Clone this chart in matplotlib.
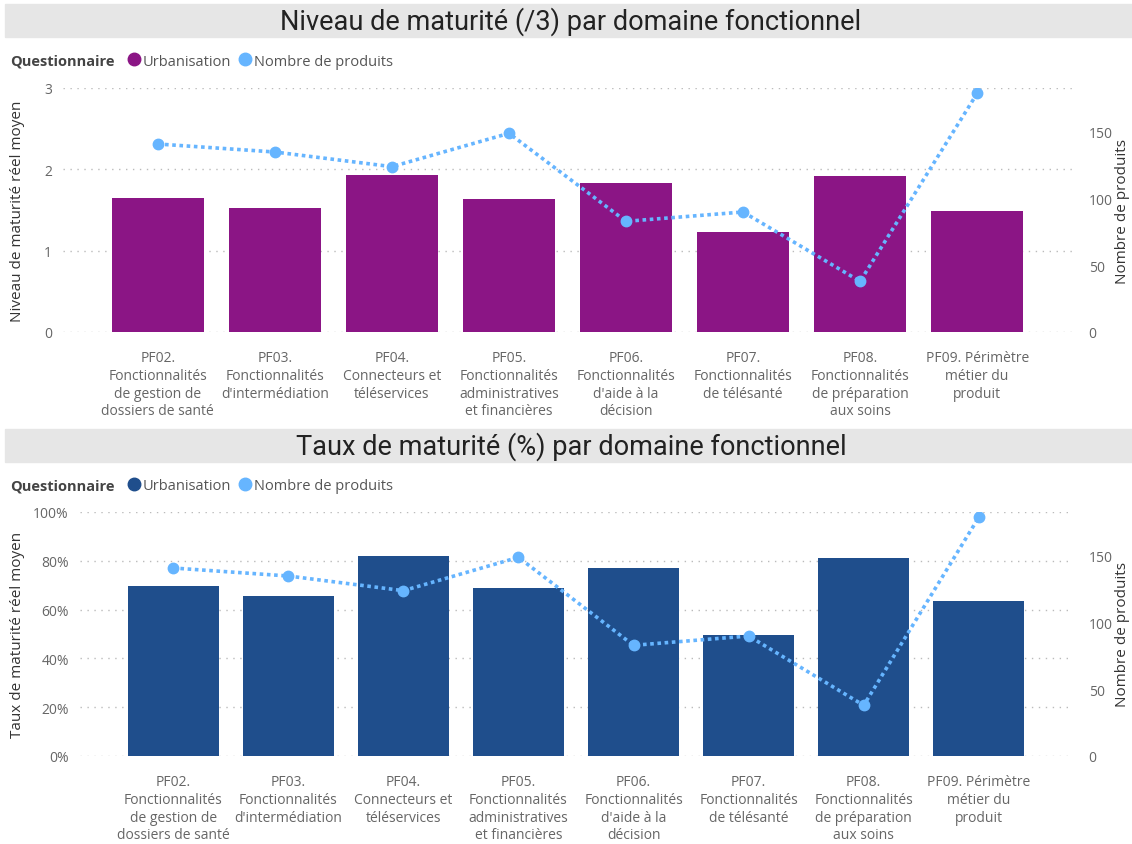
import matplotlib.pyplot as plt
from matplotlib.patches import Rectangle
from matplotlib.lines import Line2D
from matplotlib.ticker import PercentFormatter
import numpy as np

# domaines fonctionnels (libellés déjà coupés comme dans le rapport)
domaines = [
    "PF02.\nFonctionnalités\nde gestion de\ndossiers de santé",
    "PF03.\nFonctionnalités\nd'intermédiation",
    "PF04.\nConnecteurs et\ntéléservices",
    "PF05.\nFonctionnalités\nadministratives\net financières",
    "PF06.\nFonctionnalités\nd'aide à la\ndécision",
    "PF07.\nFonctionnalités\nde télésanté",
    "PF08.\nFonctionnalités\nde préparation\naux soins",
    "PF09. Périmètre\nmétier du\nproduit",
]

niveau_moyen = [1.65, 1.53, 1.93, 1.64, 1.83, 1.23, 1.92, 1.49]   # /3
taux_moyen = [69.7, 65.6, 82.0, 68.9, 77.0, 49.6, 81.0, 63.5]       # %
nb_produits = [141, 135, 124, 149, 83, 90, 38, 179]

W, H = 1132, 845
GRIS_TXT = "#666666"
BLEU_LIGNE = "#66B5FF"

fig = plt.figure(figsize=(W / 100, H / 100), dpi=100)
plt.rcParams['font.family'] = ['Open Sans', 'DejaVu Sans']


def px(x, y):
    # coordonnées pixel -> fraction de figure
    return x / W, 1 - y / H


def bandeau(y0, y1, titre):
    fig.patches.append(Rectangle((5 / W, 1 - y1 / H), (W - 5) / W, (y1 - y0) / H,
                                 transform=fig.transFigure, color="#E6E6E6", zorder=0))
    fig.text(571 / W, 1 - (y0 + y1) / 2 / H, titre, ha="center", va="center",
             fontsize=19.5, color="#222222", family=["Roboto", "DejaVu Sans"])


def legende(y, couleur_barre):
    fig.text(10 / W, 1 - y / H, "Questionnaire", fontsize=10.5, fontweight="bold",
             color="#444444", va="center")
    handles = [
        Line2D([], [], marker="o", linestyle="", color=couleur_barre, markersize=9),
        Line2D([], [], marker="o", linestyle="", color=BLEU_LIGNE, markersize=9),
    ]
    fig.legend(handles, ["Urbanisation", "Nombre de produits"], ncol=2,
               loc="center left", bbox_to_anchor=(120 / W, 1 - y / H),
               frameon=False, handletextpad=0.15, columnspacing=0.5,
               handlelength=0.9, borderpad=0, prop={"size": 10.5},
               labelcolor="#555555")


def panneau(left, top, bottom, valeurs, couleur, ylabel, ymax, yticks, pct=False):
    l, b = px(left, bottom)
    r, t = px(1072, top)
    ax = fig.add_axes([l, b, r - l, t - b])
    x = np.arange(len(domaines))
    ax.bar(x, valeurs, width=0.79, color=couleur, zorder=2)
    ax.set_xlim(-0.81, len(domaines) - 1 + 0.81)
    ax.set_ylim(0, ymax)
    ax.set_yticks(yticks)
    if pct:
        ax.yaxis.set_major_formatter(PercentFormatter(decimals=0))
    ax.grid(axis="y", linestyle=(0, (1, 4)), color="#BBBBBB", linewidth=1, zorder=0)
    ax.set_xticks(x)
    ax.set_xticklabels(domaines, fontsize=10, color=GRIS_TXT, linespacing=1.25)
    ax.tick_params(axis="both", length=0)
    ax.tick_params(axis="y", labelsize=10, labelcolor=GRIS_TXT, pad=8)
    ax.tick_params(axis="x", pad=13)
    for s in ax.spines.values():
        s.set_visible(False)

    ax2 = ax.twinx()
    ax2.plot(x, nb_produits, linestyle=(0, (1, 1)), linewidth=2.6, color=BLEU_LIGNE,
             marker="o", markersize=7.5, zorder=3)
    ax2.set_ylim(0, 183)
    ax2.set_yticks([0, 50, 100, 150])
    ax2.tick_params(axis="y", length=0, labelsize=10, labelcolor=GRIS_TXT, pad=12)
    for s in ax2.spines.values():
        s.set_visible(False)

    # titres des axes, placés en pixels
    ymid = 1 - (top + bottom) / 2 / H
    fig.text(18 / W, ymid, ylabel, rotation=90, ha="center", va="center",
             fontsize=11, color="#333333")
    fig.text(1123 / W, ymid, "Nombre de produits", rotation=90, ha="center",
             va="center", fontsize=11, color="#333333")
    return ax


# graphique du haut : niveau /3
bandeau(5, 38, "Niveau de maturité (/3) par domaine fonctionnel")
legende(62, "#8B1585")
panneau(63, 89, 333, niveau_moyen, "#8B1585", "Niveau de maturité réel moyen",
        3, [0, 1, 2, 3])

# graphique du bas : taux en %
bandeau(430, 463, "Taux de maturité (%) par domaine fonctionnel")
legende(487, "#1F4E8C")
panneau(80, 513, 757, taux_moyen, "#1F4E8C", "Taux de maturité réel moyen",
        100, [0, 20, 40, 60, 80, 100], pct=True)

fig.savefig("out.png", dpi=100)
